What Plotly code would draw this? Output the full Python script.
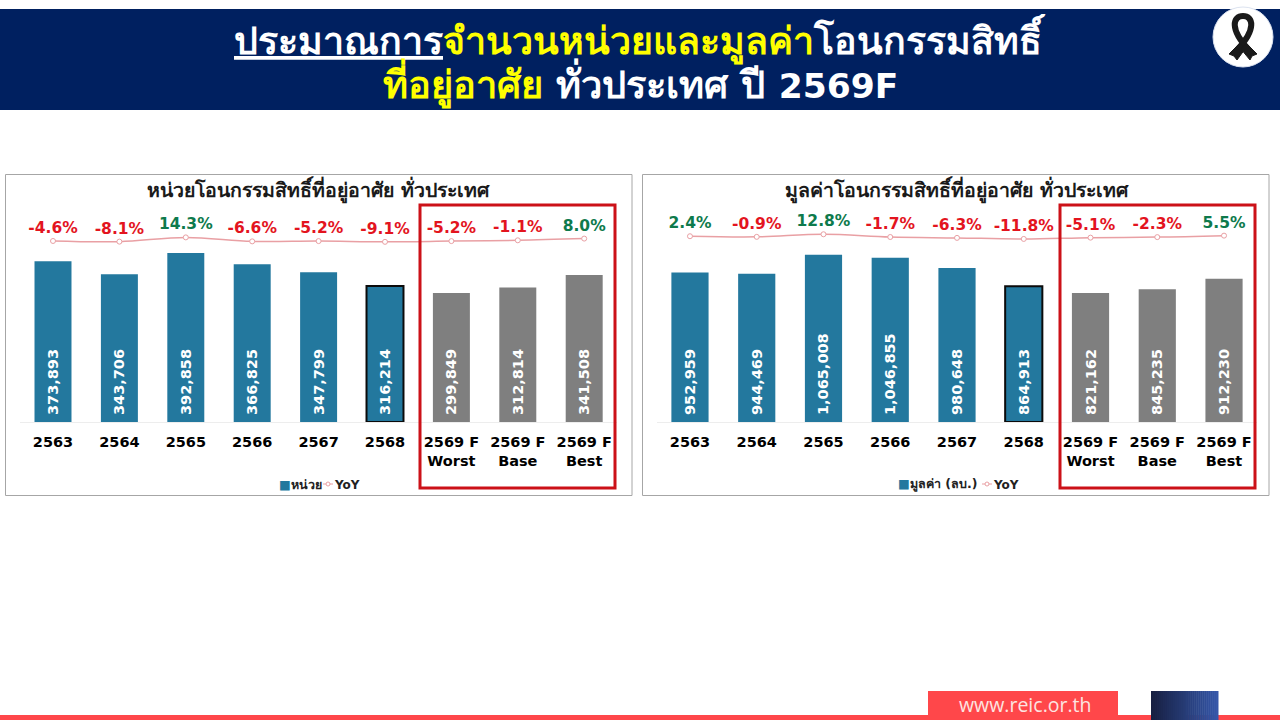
import plotly.graph_objects as go

# Annual series shared by both panels
categories = ["2563", "2564", "2565", "2566", "2567", "2568",
              "2569 F<br>Worst", "2569 F<br>Base", "2569 F<br>Best"]

units = [373893, 343706, 392858, 366825, 347799, 316214, 299849, 312814, 341508]
units_yoy = [-4.6, -8.1, 14.3, -6.6, -5.2, -9.1, -5.2, -1.1, 8.0]

values = [952959, 944469, 1065008, 1046855, 980648, 864913, 821162, 845235, 912230]
values_yoy = [2.4, -0.9, 12.8, -1.7, -6.3, -11.8, -5.1, -2.3, 5.5]

BLUE = "#23789E"
GREY = "#7F7F7F"
RED = "#E3141E"
GREEN = "#0E7A4C"
NAVY = "#002060"
LINE = "#E9A0A4"
FONT = "DejaVu Sans"
W, H = 1280, 720

# Bar axes tops, and how far the rotated value labels sit above the baseline
TOP, BASE = 200, 422
UNITS_MAX, VALUES_MAX = 516000, 1414000
LABEL_LIFT_PX = 4


def px(x):
    return x / W


def py(y):
    return 1 - y / H


bar_colors = [BLUE] * 6 + [GREY] * 3
bar_line_widths = [0, 0, 0, 0, 0, 2, 0, 0, 0]

fig = go.Figure()


def add_panel(bars, yoy, axis_max, xa, ya, ya2):
    fig.add_trace(go.Bar(
        x=categories, y=bars, xaxis=xa, yaxis=ya, showlegend=False,
        marker=dict(color=bar_colors, line=dict(color="#0B0B0B", width=bar_line_widths)),
        hoverinfo="skip",
    ))
    # Transparent copy of the bars, raised a little, that carries the value labels
    fig.add_trace(go.Bar(
        x=categories, y=bars, xaxis=xa, yaxis=ya, showlegend=False,
        base=LABEL_LIFT_PX * axis_max / (BASE - TOP),
        marker=dict(color="rgba(0,0,0,0)", line=dict(width=0)),
        text=[f"{v:,}" for v in bars], textposition="inside",
        insidetextanchor="start", textangle=-90, constraintext="none",
        textfont=dict(family=FONT, size=14.5, color="#FFFFFF", weight="bold"),
        hoverinfo="skip",
    ))
    fig.add_trace(go.Scatter(
        x=categories, y=yoy, xaxis=xa, yaxis=ya2, showlegend=False,
        mode="lines+markers+text", line=dict(color=LINE, width=1.5, shape="spline"),
        marker=dict(size=5, color="#FFFFFF", line=dict(color=LINE, width=1)),
        text=[f"{v:.1f}%" for v in yoy], textposition="top center",
        textfont=dict(family=FONT, size=15.5, weight="bold",
                      color=[GREEN if v > 0 else RED for v in yoy]),
        cliponaxis=False, hoverinfo="skip",
    ))


add_panel(units, units_yoy, UNITS_MAX, "x", "y", "y3")
add_panel(values, values_yoy, VALUES_MAX, "x2", "y2", "y4")

axis_x = dict(type="category", showgrid=False, zeroline=False, showline=True,
              linecolor="#EDEDED", linewidth=1, ticks="", ticklabelstandoff=7,
              tickangle=0, tickfont=dict(family=FONT, size=14.5, color="#000000", weight="bold"))
hidden_y = dict(visible=False, showgrid=False, zeroline=False)
y_domain = [py(BASE), py(TOP)]

fig.update_layout(
    width=W, height=H, autosize=False, margin=dict(l=0, r=0, t=0, b=0),
    paper_bgcolor="#FFFFFF", plot_bgcolor="rgba(0,0,0,0)", barmode="overlay", bargap=0.443,
    showlegend=False,
    xaxis=dict(axis_x, domain=[px(19.8), px(617.4)]),
    xaxis2=dict(axis_x, domain=[px(656.6), px(1257.4)]),
    yaxis=dict(hidden_y, domain=y_domain, range=[0, UNITS_MAX]),
    yaxis2=dict(hidden_y, domain=y_domain, range=[0, VALUES_MAX]),
    yaxis3=dict(hidden_y, domain=y_domain, range=[-957, 211], overlaying="y", anchor="x"),
    yaxis4=dict(hidden_y, domain=y_domain, range=[-975, 193], overlaying="y2", anchor="x2"),
)


def rect(x0, y0, x1, y1, fill=None, line=None, width=0, layer="below"):
    return dict(type="rect", xref="paper", yref="paper", layer=layer,
                x0=px(x0), x1=px(x1), y0=py(y0), y1=py(y1),
                fillcolor=fill or "rgba(0,0,0,0)",
                line=dict(color=line or "rgba(0,0,0,0)", width=width))


def seg(x0, y0, x1, y1, color, width):
    return dict(type="line", xref="paper", yref="paper", layer="above",
                x0=px(x0), x1=px(x1), y0=py(y0), y1=py(y1), line=dict(color=color, width=width))


def dot(cx, cy, r, fill, line, width=1):
    return dict(type="circle", xref="paper", yref="paper", layer="above",
                x0=px(cx - r), x1=px(cx + r), y0=py(cy + r), y1=py(cy - r),
                fillcolor=fill, line=dict(color=line, width=width))


shapes = [
    rect(0, 9, W, 110, fill=NAVY),
    rect(5.5, 174.5, 632, 495.5, line="#A6A6A6", width=1),
    rect(642.5, 174.5, 1269, 495.5, line="#A6A6A6", width=1),
    rect(420, 205, 615, 488, line="#CC1118", width=3, layer="above"),
    rect(1060, 205, 1255, 488, line="#CC1118", width=3, layer="above"),
    rect(0, 715, W, 720, fill="#FF474A"),
    rect(928, 691, 1118, 720, fill="#FF474A"),
    dot(1243, 37, 30, "#FFFFFF", "#DCE3F0"),
]

# Compact legend keys: the YoY line with its hollow marker
for x_mid in (328, 987):
    shapes.append(seg(x_mid - 5, 484, x_mid + 5, 484, LINE, 1))
    shapes.append(dot(x_mid, 484, 2, "#FFFFFF", LINE))

# Blue gradient block in the footer, built from narrow stripes
stripe_start, stripe_end, stripe_count = (24, 32, 66), (52, 86, 168), 34
for i in range(stripe_count):
    t = i / (stripe_count - 1)
    rgb = [round(a + (b - a) * t) for a, b in zip(stripe_start, stripe_end)]
    x0 = 1151 + 67 * i / stripe_count
    shapes.append(rect(x0, 691, x0 + 67 / stripe_count + 0.5, 720, fill=f"rgb({rgb[0]},{rgb[1]},{rgb[2]})"))


def polygon(points):
    return "M " + " L ".join(f"{px(x):.5f},{py(y):.5f}" for x, y in points) + " Z"


# Mourning ribbon: the loop as a thick stroke, then the two crossed tails
loop = ("M {},{} C {},{} {},{} {},{} C {},{} {},{} {},{}").format(
    px(1249), py(50), px(1229), py(29), px(1233), py(16), px(1243), py(16),
    px(1253), py(16), px(1257), py(29), px(1237), py(50))
shapes.append(dict(type="path", xref="paper", yref="paper", layer="above", path=loop,
                   line=dict(color="#1A1A1A", width=6)))
for tail in ([(1240, 43), (1245, 49), (1237, 60), (1234, 56), (1229, 54)],
             [(1246, 43), (1241, 49), (1250, 60), (1252, 56), (1257, 54)]):
    shapes.append(dict(type="path", xref="paper", yref="paper", layer="above",
                       path=polygon(tail), fillcolor="#1A1A1A", line=dict(color="#1A1A1A", width=1)))
fig.update_layout(shapes=shapes)

YEL = "#FFFF00"
LATIN = "font-size:34.5px"
annotations = [
    dict(text=f"<b><u>ประมาณการ</u><span style='color:{YEL}'>จำนวนหน่วยและมูลค่า</span>โอนกรรมสิทธิ์</b>",
         x=px(640), y=py(39), font=dict(size=37.5, color="#FFFFFF", family=FONT)),
    dict(text=f"<b><span style='color:{YEL}'>ที่อยู่อาศัย</span> ทั่วประเทศ ปี <span style='{LATIN}'>2569F</span></b>",
         x=px(640), y=py(83.5), font=dict(size=38, color="#FFFFFF", family=FONT)),
    dict(text="<b>หน่วยโอนกรรมสิทธิ์ที่อยู่อาศัย ทั่วประเทศ</b>", x=px(318), y=py(190),
         font=dict(size=19.5, color="#1A1A1A", family=FONT)),
    dict(text="<b>มูลค่าโอนกรรมสิทธิ์ที่อยู่อาศัย ทั่วประเทศ</b>", x=px(957), y=py(190),
         font=dict(size=19.5, color="#1A1A1A", family=FONT)),
    dict(text=f"<b><span style='color:{BLUE}'>■</span>หน่วย</b>", x=px(300), y=py(484),
         font=dict(size=12.5, color="#222222", family=FONT)),
    dict(text="<b>YoY</b>", x=px(347), y=py(484.5), font=dict(size=12, color="#222222", family=FONT)),
    dict(text=f"<b><span style='color:{BLUE}'>■</span>มูลค่า (ลบ.)</b>", x=px(937), y=py(484),
         font=dict(size=12.5, color="#222222", family=FONT)),
    dict(text="<b>YoY</b>", x=px(1006), y=py(484.5), font=dict(size=12, color="#222222", family=FONT)),
    dict(text="www.reic.or.th", x=px(1025), y=py(704),
         font=dict(size=19.5, color="#FCE4E0", family="Open Sans")),
]
for a in annotations:
    a.update(xref="paper", yref="paper", xanchor="center", yanchor="middle", showarrow=False)
fig.update_layout(annotations=annotations)

fig.write_html("out.html", config=dict(displayModeBar=False))
